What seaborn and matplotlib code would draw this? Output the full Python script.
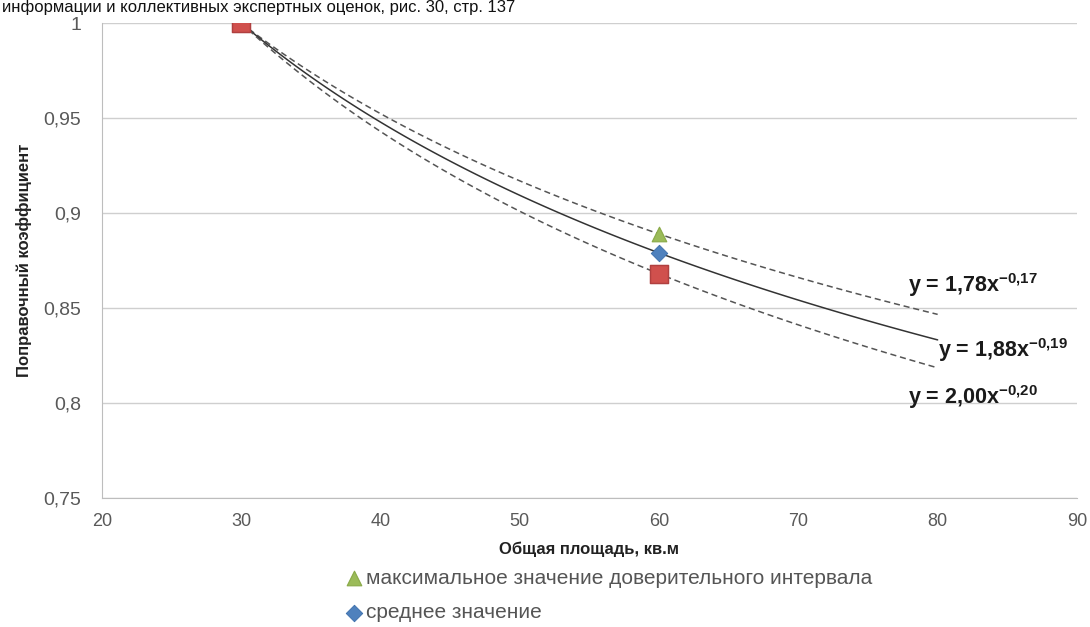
import numpy as np
import pandas as pd
import matplotlib
matplotlib.use("Agg")
import matplotlib.pyplot as plt
import seaborn as sns

# points
area = [30, 60]
max_vals = [1.0, 0.889]     # upper bound of the confidence interval
mean_vals = [1.0, 0.879]    # mean
min_vals = [1.0, 0.868]     # lower bound
eq_labels = [r"y = 1,78x$^{\mathbf{-0{,}17}}$",
             r"y = 1,88x$^{\mathbf{-0{,}19}}$",
             r"y = 2,00x$^{\mathbf{-0{,}20}}$"]
legend_labels = ["максимальное значение доверительного интервала", "среднее значение"]

sns.set_style("white")
plt.rcParams["font.family"] = ["Liberation Sans", "DejaVu Sans"]
plt.rcParams["mathtext.fontset"] = "custom"
plt.rcParams["mathtext.rm"] = "Liberation Sans"
plt.rcParams["mathtext.bf"] = "Liberation Sans:bold"

fig = plt.figure(figsize=(10.9, 6.27), dpi=100)
ax = fig.add_axes([0.0936, 0.206, 0.8944, 0.757])

# power trend lines fitted to the points (like Excel trendlines)
xs = np.linspace(30, 80, 120)
def power_fit(vals):
    b, a = np.polyfit(np.log(area), np.log(vals), 1)
    return np.exp(a) * xs ** b

trend = pd.DataFrame({"x": xs, "max": power_fit(max_vals),
                      "mean": power_fit(mean_vals), "min": power_fit(min_vals)})
sns.lineplot(data=trend, x="x", y="max", ax=ax, color="#555555", lw=1.1, ls=(0, (4, 2.5)))
sns.lineplot(data=trend, x="x", y="mean", ax=ax, color="#333333", lw=1.1)
sns.lineplot(data=trend, x="x", y="min", ax=ax, color="#555555", lw=1.1, ls=(0, (4, 2.5)))

sns.scatterplot(x=area, y=max_vals, ax=ax, marker="^", s=110, color="#9BBB59",
                edgecolor="#8AAA48", zorder=5, label=legend_labels[0])
sns.scatterplot(x=area, y=mean_vals, ax=ax, marker="D", s=70, color="#4F81BD",
                edgecolor="#3F71AD", zorder=6, label=legend_labels[1])
sns.scatterplot(x=area, y=min_vals, ax=ax, marker="s", s=180, color="#D0504D",
                edgecolor="#B04040", zorder=7)

ax.text(77.86, 0.862, eq_labels[0], fontsize=15.5, fontweight="bold", va="center", color="#1a1a1a")
ax.text(80.0, 0.828, eq_labels[1], fontsize=15.5, fontweight="bold", va="center", color="#1a1a1a")
ax.text(77.86, 0.803, eq_labels[2], fontsize=15.5, fontweight="bold", va="center", color="#1a1a1a")

ax.set_xlim(20, 90)
ax.set_ylim(0.75, 1.0)
ax.set_xticks(range(20, 91, 10))
ax.set_yticks([0.75, 0.8, 0.85, 0.9, 0.95, 1.0])
ax.set_yticklabels(["0,75", "0,8", "0,85", "0,9", "0,95", "1"])
ax.grid(axis="y", color="#cfcfcf", lw=1)
ax.set_axisbelow(True)
for s in ["top", "right"]:
    ax.spines[s].set_visible(False)
for s in ["left", "bottom"]:
    ax.spines[s].set_color("#bdbdbd")
ax.tick_params(axis="both", colors="#bdbdbd", length=5, direction="out", labelsize=14,
               labelcolor="#595959")
ax.tick_params(axis="x", labelsize=13, pad=6)
ax.tick_params(axis="y", pad=10)
ax.set_xlabel("Общая площадь, кв.м", fontsize=12, fontweight="bold", color="#222222", labelpad=8)
ax.set_ylabel("Поправочный коэффициент", fontsize=12, fontweight="bold", color="#222222", labelpad=8)

leg = ax.legend(loc="upper left", bbox_to_anchor=(0.24, -0.132), frameon=False,
                fontsize=15, labelspacing=0.75, handletextpad=0.15, borderaxespad=0,
                handlelength=0.9)
for t in leg.get_texts():
    t.set_color("#555555")

# caption line at the top edge of the picture
fig.text(0.002, 1 - 12 / 627, "информации и коллективных экспертных оценок, рис. 30, стр. 137",
         fontsize=12, color="#111111", va="baseline")

fig.savefig("out.png", dpi=100)
